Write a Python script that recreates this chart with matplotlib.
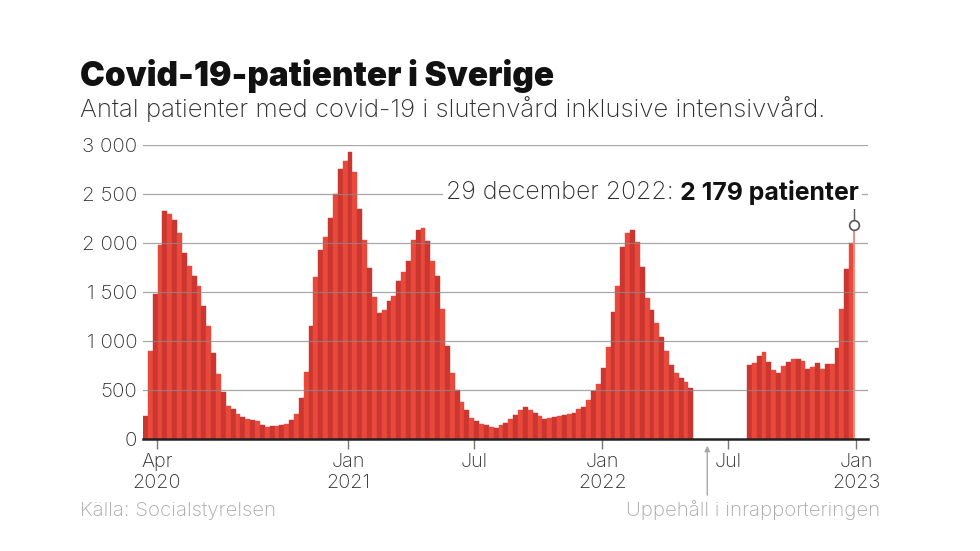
import matplotlib
matplotlib.use("Agg")
import matplotlib.pyplot as plt
import matplotlib.dates as mdates
import numpy as np

# Weekly counts (week ending on Thursday).
BEFORE_GAP_LAST_WEEK = "2022-05-12"
BEFORE_GAP = [
    230, 900, 1480, 1980, 2330, 2300, 2230, 2100, 1900, 1770,
    1660, 1560, 1360, 1150, 880, 660, 480, 340, 305, 255,
    220, 200, 195, 180, 140, 127, 133, 135, 140, 155,
    190, 260, 420, 680, 1150, 1650, 1930, 2060, 2250, 2500,
    2750, 2840, 2930, 2720, 2350, 2030, 1740, 1450, 1290, 1320,
    1410, 1460, 1610, 1700, 1820, 2030, 2130, 2150, 2020, 1820,
    1660, 1330, 950, 670, 500, 380, 300, 215, 180, 155,
    140, 118, 110, 140, 165, 200, 245, 300, 325, 300,
    265, 230, 200, 210, 220, 235, 245, 252, 262, 310,
    330, 400, 490, 560, 720, 940, 1300, 1560, 1960, 2100,
    2130, 2010, 1760, 1440, 1320, 1180, 1040, 900, 760, 670,
    620, 585, 525,
]
AFTER_GAP_LAST_WEEK = "2022-12-29"
AFTER_GAP = [
    755, 775, 845, 890, 790, 700, 670, 740, 785, 820,
    815, 800, 715, 735, 775, 715, 765, 765, 930, 1330,
    1730, 2000,
]
LAST_DAY = "2022-12-29"
LAST_VALUE = 2179
GAP_NOTE_DAY = "2022-06-01"

Y_TICKS = [0, 500, 1000, 1500, 2000, 2500, 3000]
Y_LABELS = ["0", "500", "1 000", "1 500", "2 000", "2 500", "3 000"]
X_TICKS = ["2020-04-01", "2021-01-01", "2021-07-01", "2022-01-01", "2022-07-01", "2023-01-01"]
X_LABELS = ["Apr\n2020", "Jan\n2021", "Jul", "Jan\n2022", "Jul", "Jan\n2023"]

DARK_RED = "#cc3631"
LIGHT_RED = "#e8493a"
INK = "#222222"
LABEL = "#2e2e2e"
GRID = "#8a8a8a"
MUTED = "#a8a8a8"
FONT = ["Inter", "DejaVu Sans"]

plt.rcParams.update({"font.family": FONT})


def week_ends(last, n):
    return np.datetime64(last) - 7 * np.arange(n - 1, -1, -1)


def num(day):
    return mdates.date2num(np.datetime64(day, "D"))


ends_a = week_ends(BEFORE_GAP_LAST_WEEK, len(BEFORE_GAP))
ends_b = week_ends(AFTER_GAP_LAST_WEEK, len(AFTER_GAP))
ends = np.concatenate([ends_a, ends_b])
values = np.array(BEFORE_GAP + AFTER_GAP)
week_idx = ((ends - ends[0]).astype(int) // 7)
colors = [DARK_RED if i % 2 == 0 else LIGHT_RED for i in week_idx]
x_end = mdates.date2num(ends.astype("datetime64[D]"))

fig = plt.figure(figsize=(9.8, 5.51), dpi=100)
ax = fig.add_axes([143 / 980, 112 / 551, 725 / 980, 294.5 / 551])

ax.bar(x_end - 7, values, width=7, align="edge", color=colors,
       edgecolor=colors, linewidth=0.3, zorder=2)

for yv in Y_TICKS[1:]:
    ax.axhline(yv, color=GRID, linewidth=0.9, alpha=0.75, zorder=3)

ax.set_xlim(num("2020-03-12"), num("2023-01-18"))
ax.set_ylim(0, 3005)
ax.set_yticks(Y_TICKS, Y_LABELS)
ax.set_xticks([num(d) for d in X_TICKS], X_LABELS)
ax.tick_params(axis="y", length=0, pad=4, labelsize=14.8, labelcolor=LABEL)
ax.tick_params(axis="x", length=7, width=1, color="#777777", pad=3,
               labelsize=14.3, labelcolor=LABEL)
for lab in ax.get_yticklabels() + ax.get_xticklabels():
    lab.set_fontweight("light")
for side in ("left", "right", "top"):
    ax.spines[side].set_visible(False)
ax.spines["bottom"].set_color(INK)
ax.spines["bottom"].set_linewidth(1.8)
ax.spines["bottom"].set_zorder(5)

# Highlight of the latest day
d_last = num(LAST_DAY)
ax.plot([d_last, d_last], [0, LAST_VALUE], color="#ef8a80", linewidth=1.4, zorder=4)
ax.plot([d_last, d_last], [2400, LAST_VALUE + 45], color="#555555", linewidth=1.0,
        zorder=5, clip_on=False)
ax.plot(d_last, LAST_VALUE, "o", markerfacecolor="white", markeredgecolor="#555555",
        markersize=7, markeredgewidth=1.2, zorder=6, clip_on=False)

box = {"facecolor": "white", "edgecolor": "none", "pad": 2.5}
bold = fig.text(859 / 980, 1 - 193 / 551, "2 179 patienter", ha="right", va="center",
                fontsize=17.9, fontweight="bold", color="#111111", bbox=box, zorder=10)
fig.canvas.draw()
bb = bold.get_window_extent()
fig.text((bb.x0 - 6) / 980, 1 - 193 / 551, "29 december 2022:", ha="right", va="center",
         fontsize=17.9, fontweight="light", color=LABEL, bbox=box, zorder=10)

# Reporting gap note
ax.annotate("", xy=(num(GAP_NOTE_DAY), -40), xytext=(num(GAP_NOTE_DAY), -600),
            arrowprops={"arrowstyle": "-|>", "color": MUTED, "lw": 1.0,
                        "mutation_scale": 8},
            annotation_clip=False)

fig.text(80 / 980, 1 - 86 / 551, "Covid-19-patienter i Sverige", fontsize=24,
         fontweight="black", color="#111111", va="baseline")
fig.text(80 / 980, 1 - 117 / 551,
         "Antal patienter med covid-19 i slutenvård inklusive intensivvård.",
         fontsize=18.5, fontweight="light", color=LABEL, va="baseline")
fig.text(80 / 980, 1 - 516 / 551, "Källa: Socialstyrelsen", fontsize=14.7,
         fontweight="light", color=MUTED, va="baseline")
fig.text(880 / 980, 1 - 516 / 551, "Uppehåll i inrapporteringen", fontsize=14.7,
         fontweight="light", color=MUTED, va="baseline", ha="right")

fig.savefig("out.png", dpi=100)
